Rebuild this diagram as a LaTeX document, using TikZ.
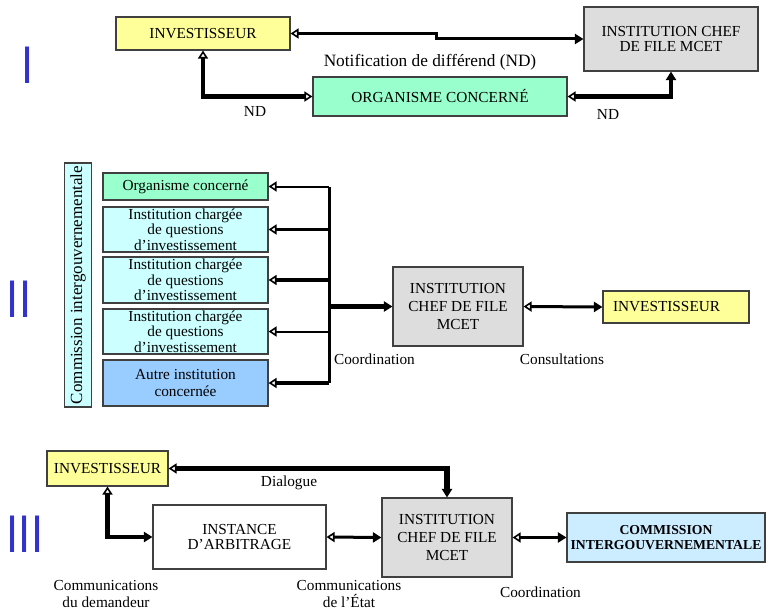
\documentclass[tikz,border=0pt]{standalone}
\usepackage{fontspec}
\setmainfont{Liberation Serif}
\setsansfont{Liberation Sans}
\usetikzlibrary{arrows.meta}
\definecolor{cYel}{HTML}{FFFF99}
\definecolor{cGray}{HTML}{DDDDDD}
\definecolor{cGreen}{HTML}{99FFCC}
\definecolor{cCyan}{HTML}{CCFFFF}
\definecolor{cBlue}{HTML}{99CCFF}
\definecolor{cCom}{HTML}{CCECFF}
\definecolor{cNum}{HTML}{3333CC}
\definecolor{cEdge}{HTML}{404040}
\tikzset{
  aO/.tip={Triangle[open,length=8pt,width=10pt,line width=1.6pt]},
  aF/.tip={Triangle[length=8.5pt,width=10pt]},
  box/.style={draw=cEdge, line width=1.1pt, inner sep=0pt, align=center},
  lbl/.style={inner sep=0pt, align=center},
  num/.style={inner sep=0pt, text=cNum, font=\fontsize{53}{53}\selectfont\sffamily},
  wthin/.style={line width=2pt},
  wmid/.style={line width=3pt},
  wthick/.style={line width=4.5pt},
  wvthick/.style={line width=5.5pt},
}
\begin{document}
\begin{tikzpicture}[x=1pt,y=-1pt,font=\fontsize{15.3}{15.5}\selectfont]
\useasboundingbox (0,0) rectangle (766,610);

% Roman numerals
\node[num] (n1) at (28,65) {\scalebox{0.82}[1]{I}};
\node[num] (n2) at (19,299) {\scalebox{0.82}[1]{II}};
\node[num] (n3) at (25,534) {\scalebox{0.82}[1]{III}};

% ---------- Section I ----------
\node[box, fill=cYel, minimum width=174pt, minimum height=33pt] (inv1) at (203,33.5) {INVESTISSEUR};
\node[box, fill=cGray, minimum width=174pt, minimum height=64pt, font=\fontsize{15.3}{15}\selectfont] (chef1) at (671,39) {INSTITUTION CHEF\\DE FILE MCET};
\node[box, fill=cGreen, minimum width=254pt, minimum height=39pt] (org1) at (440,96.5) {ORGANISME CONCERNÉ};
\node[lbl, font=\fontsize{17.3}{17.3}\selectfont] (ndnote) at (430,62) {Notification de différend (ND)};
\node[lbl] (nd1) at (255,112) {ND};
\node[lbl] (nd2) at (608,115) {ND};
\coordinate (jog) at (436,0);
\draw[wmid, aO-aF] (inv1.east) -- (inv1.east -| jog) |- (chef1.west);
\draw[wthick, aO-aO] (inv1.south) |- (org1.west);
\draw[wthick, aO-aF] (org1.east) -| (chef1.south);

% ---------- Section II ----------
\node[box, fill=cCyan, rotate=90, minimum width=244pt, minimum height=27pt, font=\fontsize{17}{17}\selectfont] (com2) at (78,285) {Commission intergouvernementale};
\node[box, fill=cGreen, minimum width=165pt, minimum height=27pt] (org2) at (185.5,186.5) {Organisme concerné};
\node[box, fill=cCyan, minimum width=165pt, minimum height=45pt] (in1) at (185.5,229.5) {Institution chargée\\de questions\\d’investissement};
\node[box, fill=cCyan, minimum width=165pt, minimum height=46pt] (in2) at (185.5,280) {Institution chargée\\de questions\\d’investissement};
\node[box, fill=cCyan, minimum width=165pt, minimum height=45pt] (in3) at (185.5,331.5) {Institution chargée\\de questions\\d’investissement};
\node[box, fill=cBlue, minimum width=165pt, minimum height=46pt, font=\fontsize{15.3}{17}\selectfont] (aut2) at (185.5,383) {Autre institution\\concernée};
\node[box, fill=cGray, minimum width=130pt, minimum height=79pt, font=\fontsize{15.3}{18}\selectfont] (chef2) at (458,306.5) {INSTITUTION\\CHEF DE FILE\\MCET};
\node[box, fill=cYel, minimum width=146pt, minimum height=32pt, text width=140pt, align=left] (inv2) at (676,307) {\hspace*{7pt}INVESTISSEUR};
\node[lbl] (coord2) at (374.5,359) {Coordination};
\node[lbl] (cons2) at (562,359) {Consultations};
\coordinate (bus) at (329,0);
\draw[line width=3pt] (bus |- org2.east) -- (bus |- aut2.east);
\draw[wthin, -aO] (bus |- org2.east) -- (org2.east);
\draw[wmid, -aO] (bus |- in1.east) -- (in1.east);
\draw[wthick, -aO] (bus |- in2.east) -- (in2.east);
\draw[wthin, -aO] (bus |- in3.east) -- (in3.east);
\draw[wthick, -aO] (bus |- aut2.east) -- (aut2.east);
\draw[wthick, -aF] (bus |- chef2.west) -- (chef2.west);
\draw[wmid, aO-aF] (chef2.east) -- (inv2.west);

% ---------- Section III ----------
\node[box, fill=cYel, minimum width=121pt, minimum height=35pt] (inv3) at (107.5,468.5) {INVESTISSEUR};
\node[box, fill=white, minimum width=173pt, minimum height=64pt, font=\fontsize{15.3}{15}\selectfont] (inst3) at (239.5,537) {INSTANCE\\D’ARBITRAGE};
\node[box, fill=cGray, minimum width=130pt, minimum height=79pt, font=\fontsize{15.3}{18}\selectfont] (chef3) at (447,537.5) {INSTITUTION\\CHEF DE FILE\\MCET};
\node[box, fill=cCom, minimum width=198pt, minimum height=49pt, font=\fontsize{13.7}{15}\selectfont\bfseries] (com3) at (666,537.5) {COMMISSION\\INTERGOUVERNEMENTALE};
\node[lbl] (dial) at (289,483) {Dialogue};
\node[lbl, font=\fontsize{15.3}{17}\selectfont] (cd) at (106,594.5) {Communications\\du demandeur};
\node[lbl, font=\fontsize{15.3}{17}\selectfont] (ce) at (349,594.5) {Communications\\de l’État};
\node[lbl] (coord3) at (540.5,592) {Coordination};
\draw[wvthick, aO-aF] (inv3.east) -| (chef3.north);
\draw[wthick, aO-aF] (inv3.south) |- (inst3.west);
\draw[wmid, aO-aF] (inst3.east) -- (chef3.west);
\draw[wmid, aO-aF] (chef3.east) -- (com3.west);
\end{tikzpicture}
\end{document}
